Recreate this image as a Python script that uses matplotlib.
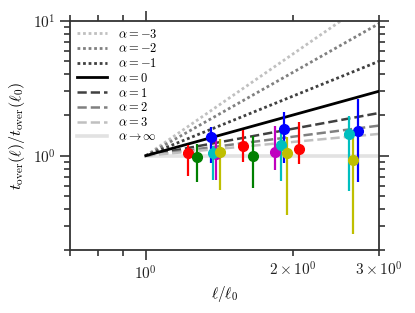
import numpy as np
import matplotlib
matplotlib.use("Agg")
import matplotlib.pyplot as plt
from matplotlib.ticker import LogLocator, LogFormatterSciNotation, NullFormatter

plt.rcParams['mathtext.fontset'] = 'cm'
plt.rcParams['font.family'] = ['cmr10', 'DejaVu Serif']
plt.rcParams['axes.formatter.use_mathtext'] = True

# model lines: value of t(l)/t(l0) at l/l0 = 1 and l/l0 = 3
line_labels = [r'$\alpha=-3$', r'$\alpha=-2$', r'$\alpha=-1$', r'$\alpha=0$',
               r'$\alpha=1$', r'$\alpha=2$', r'$\alpha=3$', r'$\alpha\rightarrow\infty$']
line_x = [1.0, 3.0]
line_end = [15.6, 9.5, 5.0, 3.0, 2.07, 1.67, 1.45, 1.0]
line_colors = ['#c0c0c0', '#808080', '#404040', 'black',
               '#404040', '#808080', '#c0c0c0', '#e2e2e2']

# measured points, one group per colour
colors = ['r', 'g', 'b', 'm', 'c', 'y']
px = {
    'r': [1.22, 1.58, 2.055],
    'g': [1.27, 1.66],
    'b': [1.36, 1.92, 2.72],
    'm': [1.39, 1.84],
    'c': [1.37, 1.89, 2.60],
    'y': [1.42, 1.945, 2.656],
}
py = {
    'r': [1.04, 1.17, 1.12],
    'g': [0.98, 0.99],
    'b': [1.375, 1.575, 1.53],
    'm': [1.03, 1.06],
    'c': [1.047, 1.206, 1.446],
    'y': [1.058, 1.047, 0.923],
}
plo = {
    'r': [0.71, 0.90, 0.87],
    'g': [0.64, 0.58],
    'b': [0.88, 0.89, 0.64],
    'm': [0.665, 0.78],
    'c': [0.657, 0.646, 0.551],
    'y': [0.554, 0.366, 0.264],
}
phi = {
    'r': [1.19, 1.54, 1.79],
    'g': [1.23, 1.40],
    'b': [1.63, 2.10, 2.62],
    'm': [1.36, 1.65],
    'c': [1.17, 1.50, 1.965],
    'y': [1.335, 1.365, 1.446],
}

fig = plt.figure(figsize=(4.15, 3.13), dpi=100)
ax = fig.add_axes([0.169, 0.201, 0.744, 0.733])

for lab, end, col in zip(line_labels, line_end, line_colors):
    if lab == r'$\alpha=0$':
        ax.plot(line_x, [1.0, end], color=col, lw=2.0, zorder=3, label=lab)
    elif lab.endswith(r'\infty$'):
        ax.plot(line_x, [1.0, end], color=col, lw=2.6, zorder=1, label=lab)
    elif '-' in lab:
        ax.plot(line_x, [1.0, end], color=col, lw=2.0, ls=(0, (1, 1.0)), zorder=2, label=lab)
    else:
        ax.plot(line_x, [1.0, end], color=col, lw=1.8, ls='--', zorder=2, label=lab)

for c in colors:
    x = np.array(px[c])
    y = np.array(py[c])
    err = [y - np.array(plo[c]), np.array(phi[c]) - y]
    ax.errorbar(x, y, yerr=err, fmt='o', color=c, ms=7, lw=1.6, capsize=0, zorder=4)

ax.set_xscale('log')
ax.set_yscale('log')
ax.set_xlim(0.7, 3.0)
ax.set_ylim(0.2, 10)

ax.xaxis.set_major_locator(LogLocator(base=10))
ax.xaxis.set_minor_locator(LogLocator(base=10, subs=np.arange(2, 10)))
ax.xaxis.set_minor_formatter(LogFormatterSciNotation(labelOnlyBase=False, minor_thresholds=(2, 0.4)))
ax.yaxis.set_minor_formatter(NullFormatter())

ax.tick_params(which='both', direction='out', top=True, right=True, labelsize=11, colors='#222222')
ax.tick_params(which='major', length=7, width=1.1)
ax.tick_params(which='minor', length=4, width=1.1)
for s in ax.spines.values():
    s.set_linewidth(1.3)
    s.set_color('#333333')

ax.set_xlabel(r'$\ell/\ell_0$', fontsize=11, labelpad=1)
ax.set_ylabel(r'$t_{\mathrm{over}}(\ell)/t_{\mathrm{over}}(\ell_0)$', fontsize=11.5)

ax.legend(loc='upper left', frameon=False, fontsize=9, handlelength=2.4,
          labelspacing=0.14, borderaxespad=0.15, handletextpad=0.9)

fig.savefig('out.png', dpi=100)
